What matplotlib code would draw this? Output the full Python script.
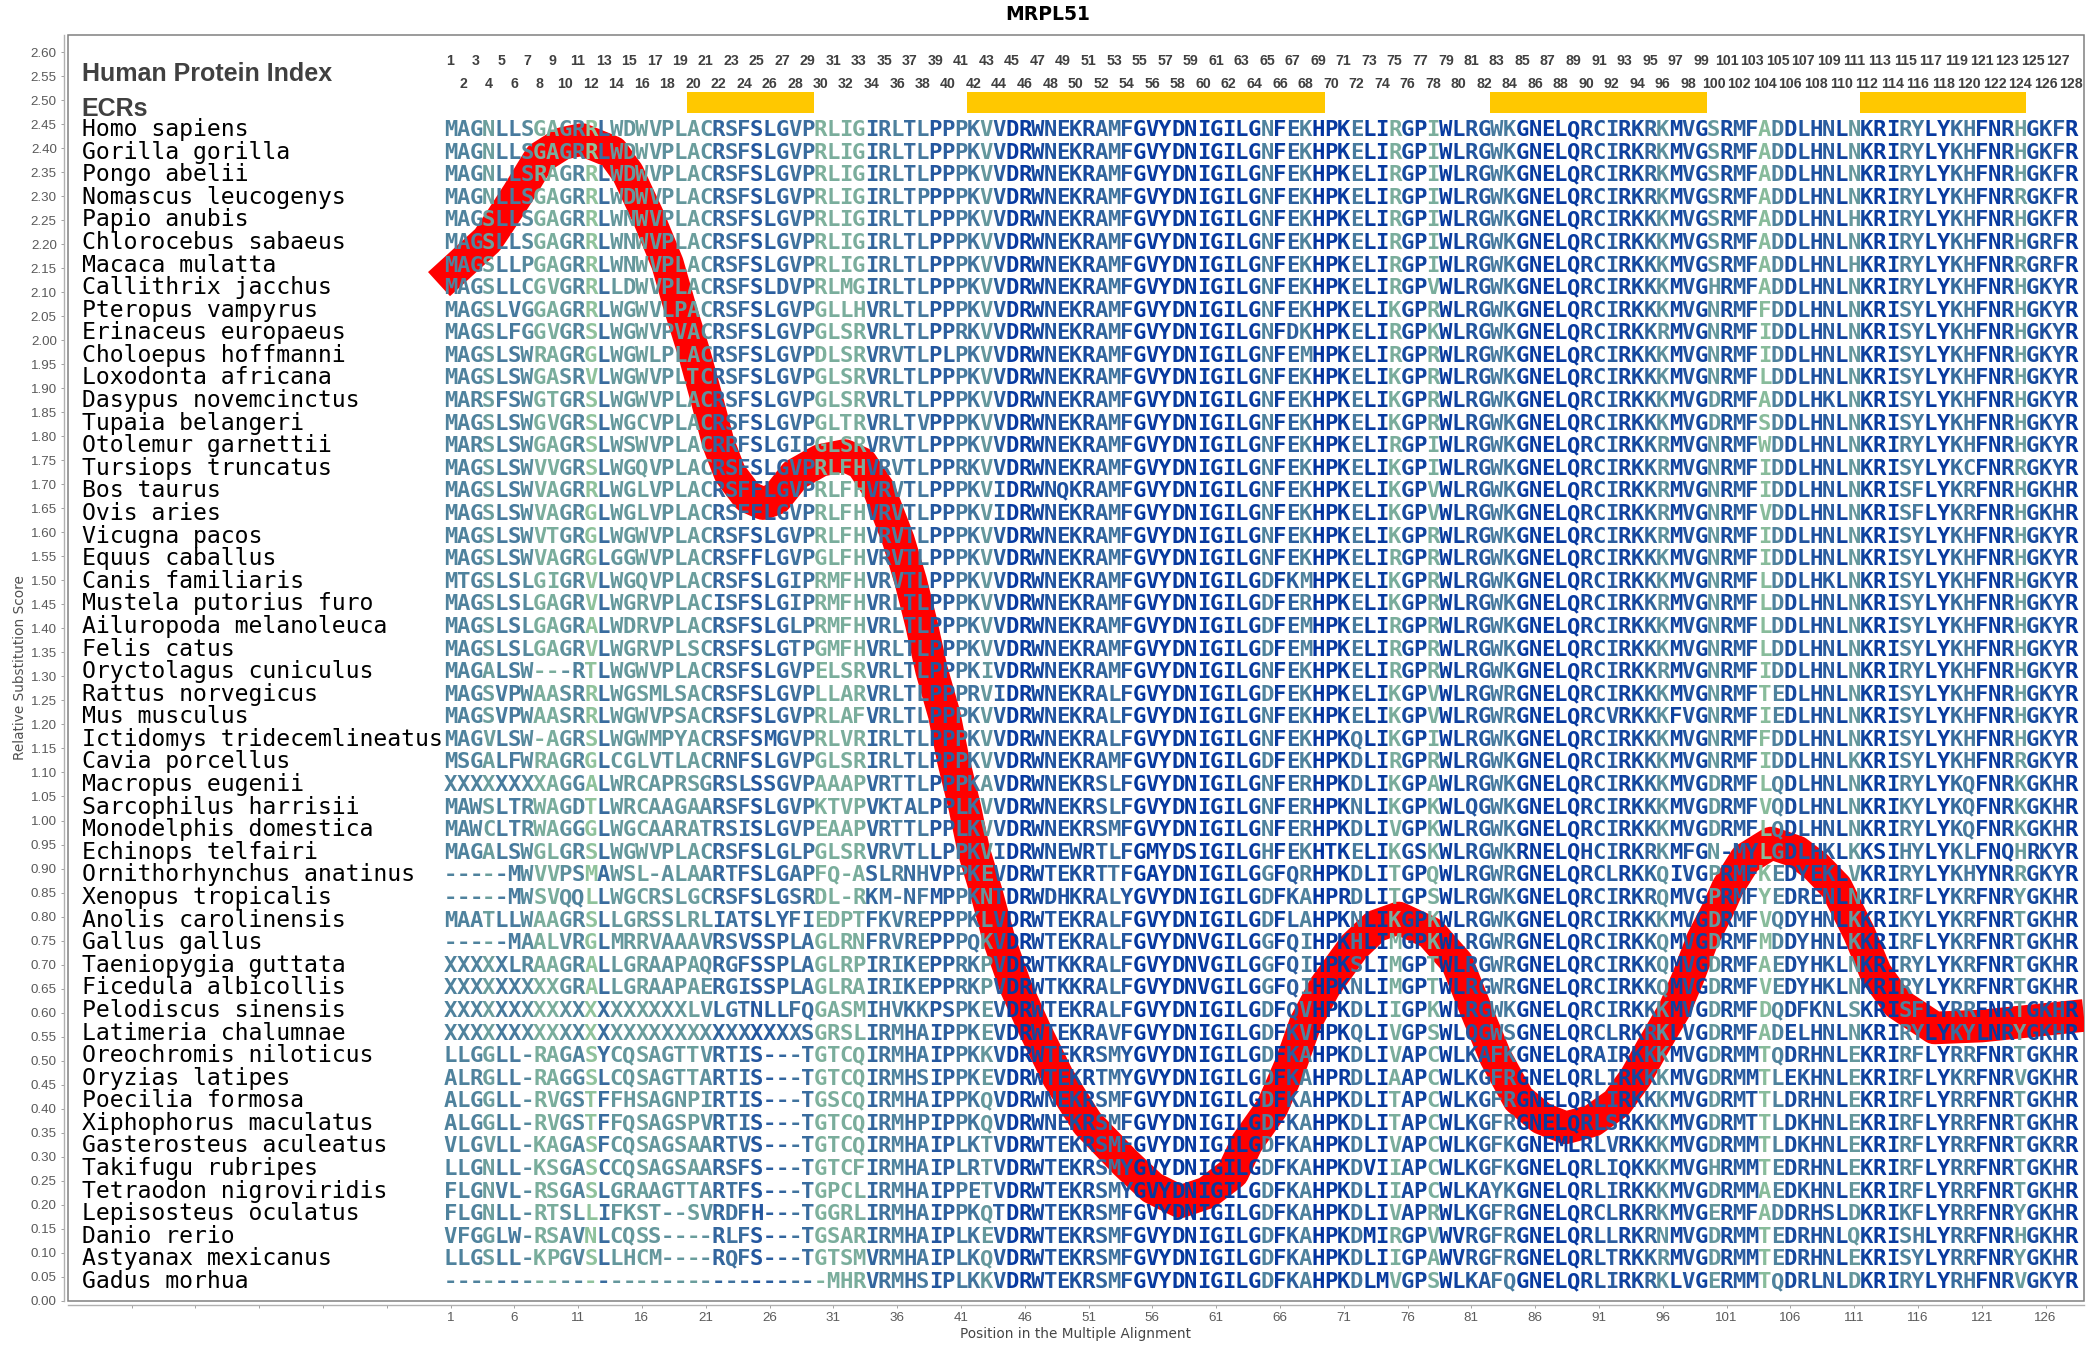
import matplotlib
matplotlib.use("Agg")
import matplotlib.pyplot as plt
from matplotlib.colors import LinearSegmentedColormap
from matplotlib.patches import Rectangle
from matplotlib.ticker import FixedLocator, FuncFormatter

title = "MRPL51"
species = ["Homo sapiens", "Gorilla gorilla", "Pongo abelii", "Nomascus leucogenys", "Papio anubis",
           "Chlorocebus sabaeus", "Macaca mulatta", "Callithrix jacchus", "Pteropus vampyrus",
           "Erinaceus europaeus", "Choloepus hoffmanni", "Loxodonta africana", "Dasypus novemcinctus",
           "Tupaia belangeri", "Otolemur garnettii", "Tursiops truncatus", "Bos taurus", "Ovis aries",
           "Vicugna pacos", "Equus caballus", "Canis familiaris", "Mustela putorius furo",
           "Ailuropoda melanoleuca", "Felis catus", "Oryctolagus cuniculus", "Rattus norvegicus",
           "Mus musculus", "Ictidomys tridecemlineatus", "Cavia porcellus", "Macropus eugenii",
           "Sarcophilus harrisii", "Monodelphis domestica", "Echinops telfairi",
           "Ornithorhynchus anatinus", "Xenopus tropicalis", "Anolis carolinensis", "Gallus gallus",
           "Taeniopygia guttata", "Ficedula albicollis", "Pelodiscus sinensis", "Latimeria chalumnae",
           "Oreochromis niloticus", "Oryzias latipes", "Poecilia formosa", "Xiphophorus maculatus",
           "Gasterosteus aculeatus", "Takifugu rubripes", "Tetraodon nigroviridis",
           "Lepisosteus oculatus", "Danio rerio", "Astyanax mexicanus", "Gadus morhua"]

alignment = [
    "MAGNLLSGAGRRLWDWVPLACRSFSLGVPRLIGIRLTLPPPKVVDRWNEKRAMFGVYDNIGILGNFEKHPKELIRGPIWLRGWKGNELQRCIRKRKMVGSRMFADDLHNLNKRIRYLYKHFNRHGKFR",
    "MAGNLLSGAGRRLWDWVPLACRSFSLGVPRLIGIRLTLPPPKVVDRWNEKRAMFGVYDNIGILGNFEKHPKELIRGPIWLRGWKGNELQRCIRKRKMVGSRMFADDLHNLNKRIRYLYKHFNRHGKFR",
    "MAGNLLSRAGRRLWDWVPLACRSFSLGVPRLIGIRLTLPPPKVVDRWNEKRAMFGVYDNIGILGNFEKHPKELIRGPIWLRGWKGNELQRCIRKRKMVGSRMFADDLHNLNKRIRYLYKHFNRHGKFR",
    "MAGNLLSGAGRRLWDWVPLACRSFSLGVPRLIGIRLTPPPPKVVDRWNEKRAMFGVYDNIGILGNFEKHPKELIRGPIWLRGWKGNELQRCIRKRKMVGSRMFADDLHNLNKRIRYLYKHFNRRGKFR",
    "MAGSLLSGAGRRLWNWVPLACRSFSLGVPRLIGIRLTLPPPKVVDRWNEKRAMFGVYDNIGILGNFEKHPKELIRGPIWLRGWKGNELQRCIRKKKMVGSRMFADDLHNLHKRIRYLYKHFNRHGKFR",
    "MAGSLLSGAGRRLWNWVPLACRSFSLGVPRLIGIRLTLPPPKVVDRWNEKRAMFGVYDNIGILGNFEKHPKELIRGPIWLRGWKGNELQRCIRKKKMVGSRMFADDLHNLNKRIRYLYKHFNRHGRFR",
    "MAGSLLPGAGRRLWNWVPLACRSFSLGVPRLIGIRLTLPPPKVVDRWNEKRAMFGVYDNIGILGNFEKHPKELIRGPIWLRGWKGNELQRCIRKKKMVGSRMFADDLHNLHKRIRYLYKHFNRRGRFR",
    "MAGSLLCGVGRRLLDWVPLACRSFSLDVPRLMGIRLTLPPPKVVDRWNEKRAMFGVYDNIGILGNFEKHPKELIRGPVWLRGWKGNELQRCIRKKKMVGHRMFADDLHNLNKRIRYLYKHFNRHGKYR",
    "MAGSLVGGAGRRLWGWVLPACRSFSLGVPGLLHVRLTLPPPKVVDRWNEKRAMFGVYDNIGILGNFEKHPKELIKGPRWLRGWKGNELQRCIRKKKMVGNRMFFDDLHNLNKRISYLYKHFNRHGKYR",
    "MAGSLFGGVGRSLWGWVPVACRSFSLGVPGLSRVRLTLPPRKVVDRWNEKRAMFGVYDNIGILGNFDKHPKELIRGPKWLRGWKGNELQRCIRKKRMVGNRMFIDDLHNLNKRISYLYKHFNRHGKYR",
    "MAGSLSWRAGRGLWGWLPLACRSFSLGVPDLSRVRVTLPLPKVVDRWNEKRAMFGVYDNIGILGNFEMHPKELIRGPRWLRGWKGNELQRCIRKKKMVGNRMFIDDLHNLNKRISYLYKHFNRHGKYR",
    "MAGSLSWGASRVLWGWVPLTCRSFSLGVPGLSRVRLTLPPPKVVDRWNEKRAMFGVYDNIGILGNFEKHPKELIKGPRWLRGWKGNELQRCIRKKKMVGNRMFLDDLHNLNKRISYLYKHFNRHGKYR",
    "MARSFSWGTGRSLWGWVPLACRSFSLGVPGLSRVRLTLPPPKVVDRWNEKRAMFGVYDNIGILGNFEKHPKELIKGPRWLRGWKGNELQRCIRKKKMVGDRMFADDLHKLNKRISYLYKHFNRHGKYR",
    "MAGSLSWGVGRSLWGCVPLACRSFSLGVPGLTRVRLTVPPPKVVDRWNEKRAMFGVYDNIGILGNFEKHPKELIKGPRWLRGWKGNELQRCIRKKKMVGDRMFSDDLHNLNKRISYLYKHFNRHGKYR",
    "MARSLSWGAGRSLWSWVPLACRRFSLGIPGLSRVRVTLPPPKVVDRWNEKRAMFGVYDNIGILGNFEKHPKELIRGPIWLRGWKGNELQRCIRKKRMVGNRMFWDDLHNLNKRIRYLYKHFNRHGKYR",
    "MAGSLSWVVGRSLWGQVPLACRSFSLGVPRLFHVRVTLPPRKVVDRWNEKRAMFGVYDNIGILGNFEKHPKELIKGPIWLRGWKGNELQRCIRKKRMVGNRMFIDDLHNLNKRISYLYKCFNRRGKYR",
    "MAGSLSWVAGRRLWGLVPLACRSFFLGVPRLFHVRVTLPPPKVIDRWNQKRAMFGVYDNIGILGNFEKHPKELIKGPVWLRGWKGNELQRCIRKKRMVGNRMFIDDLHNLNKRISFLYKRFNRHGKHR",
    "MAGSLSWVAGRGLWGLVPLACRSFFLGVPRLFHVRVTLPPPKVIDRWNEKRAMFGVYDNIGILGNFEKHPKELIKGPVWLRGWKGNELQRCIRKKRMVGNRMFVDDLHNLNKRISFLYKRFNRHGKHR",
    "MAGSLSWVTGRGLWGWVPLACRSFSLGVPRLFHVRVTLPPPKVVDRWNEKRAMFGVYDNIGILGNFEKHPKELIKGPRWLRGWKGNELQRCIRKKRMVGNRMFIDDLHNLNKRISYLYKHFNRHGKYR",
    "MAGSLSWVAGRGLGGWVPLACRSFFLGVPGLFHVRVTLPPPKVVDRWNEKRAMFGVYDNIGILGNFEKHPKELIRGPRWLRGWKGNELQRCIRKKKMVGNRMFIDDLHNLNKRISYLYKHFNRHGKYR",
    "MTGSLSLGIGRVLWGQVPLACRSFSLGIPRMFHVRVTLPPPKVVDRWNEKRAMFGVYDNIGILGDFKMHPKELIKGPRWLRGWKGNELQRCIRKKKMVGNRMFLDDLHKLNKRISYLYKHFNRHGKYR",
    "MAGSLSLGAGRVLWGRVPLACISFSLGIPRMFHVRLTLPPPKVVDRWNEKRAMFGVYDNIGILGDFERHPKELIKGPRWLRGWKGNELQRCIRKKRMVGNRMFLDDLHNLNKRISYLYKHFNRHGKYR",
    "MAGSLSLGAGRALWDRVPLACRSFSLGLPRMFHVRLTLPPPKVVDRWNEKRAMFGVYDNIGILGDFEMHPKELIRGPRWLRGWKGNELQRCIRKKKMVGNRMFLDDLHNLNKRISYLYKHFNRHGKYR",
    "MAGSLSLGAGRVLWGRVPLSCRSFSLGTPGMFHVRLTLPPPKVVDRWNEKRAMFGVYDNIGILGDFEMHPKELIRGPRWLRGWKGNELQRCIRKKKMVGNRMFLDDLHNLNKRISYLYKHFNRHGKYR",
    "MAGALSW---RTLWGWVPLACRSFSLGVPELSRVRLTLPPPKIVDRWNEKRAMFGVYDNIGILGNFEKHPKELIRGPRWLRGWKGNELQRCIRKKRMVGNRMFIDDLHNLNKRIRYLYKHFNRHGKYR",
    "MAGSVPWAASRRLWGSMLSACRSFSLGVPLLARVRLTLPPPRVIDRWNEKRALFGVYDNIGILGDFEKHPKELIKGPVWLRGWRGNELQRCIRKKKMVGNRMFTEDLHNLNKRISYLYKHFNRHGKYR",
    "MAGSVPWAASRRLWGWVPSACRSFSLGVPRLAFVRLTLPPPKVVDRWNEKRALFGVYDNIGILGNFEKHPKELIKGPVWLRGWRGNELQRCVRKKKFVGNRMFIEDLHNLNKRISYLYKHFNRHGKYR",
    "MAGVLSW-AGRSLWGWMPYACRSFSMGVPRLVRIRLTLPPPKVVDRWNEKRALFGVYDNIGILGNFEKHPKQLIKGPIWLRGWKGNELQRCIRKKKMVGNRMFFDDLHNLNKRISYLYKHFNRHGKYR",
    "MSGALFWRAGRGLCGLVTLACRNFSLGVPGLSRIRLTLPPPKVVDRWNEKRAMFGVYDNIGILGDFEKHPKDLIRGPRWLRGWKGNELQRCIRKKKMVGNRMFIDDLHNLKKRISYLYKHFNRRGKYR",
    "XXXXXXXXAGGALWRCAPRSGRSLSSGVPAAAPVRTTLPPPKAVDRWNEKRSLFGVYDNIGILGNFERHPKDLIKGPAWLRGWKGNELQRCIRKKKMVGDRMFLQDLHNLNKRIRYLYKQFNRKGKHR",
    "MAWSLTRWAGDTLWRCAAGAARSFSLGVPKTVPVKTALPPLKVVDRWNEKRSLFGVYDNIGILGNFERHPKNLIKGPKWLQGWKGNELQRCIRKKKMVGDRMFVQDLHNLNKRIKYLYKQFNRKGKHR",
    "MAWCLTRWAGGGLWGCAARATRSISLGVPEAAPVRTTLPPLKVVDRWNEKRSMFGVYDNIGILGNFERHPKDLIVGPKWLRGWKGNELQRCIRKKKMVGDRMFLQDLHNLNKRIRYLYKQFNRKGKHR",
    "MAGALSWGLGRSLWGWVPLACRSFSLGLPGLSRVRVTLLPPKVIDRWNEWRTLFGMYDSIGILGHFEKHTKELIKGSKWLRGWKRNELQHCIRKRKMFGN-MYLGDLHKLKKSIHYLYKLFNQHRKYR",
    "-----MWVVPSMAWSL-ALAARTFSLGAPFQ-ASLRNHVPPKEVDRWTEKRTTFGAYDNIGILGGFQRHPKDLITGPQWLRGWRGNELQRCLRKKQIVGPRMFKEDYEKLVKRIRYLYKHYNRRGKYR",
    "-----MWSVQQLLWGCRSLGCRSFSLGSRDL-RKM-NFMPPKNTDRWDHKRALYGVYDNIGILGDFKAHPRDLITGPSWLRGWKGNELQRCIRKRQMVGPRMFYEDRENLNKRIRFLYKRFNRYGKHR",
    "MAATLLWAAGRSLLGRSSLRLIATSLYFIEDPTFKVREPPPKLVDRWTEKRALFGVYDNIGILGDFLAHPKNLIKGPKWLRGWKGNELQRCIRKKKMVGDRMFVQDYHNLKKRIKYLYKRFNRTGKHR",
    "-----MAALVRGLMRRVAAAVRSVSSPLAGLRNFRVREPPPQKVDRWTEKRALFGVYDNVGILGGFQIHPKHLIMGPKWLRGWRGNELQRCIRKKQMVGDRMFMDDYHNLKKRIRFLYKRFNRTGKHR",
    "XXXXXLRAAGRALLGRAAPAQRGFSSPLAGLRPIRIKEPPRKPVDRWTKKRALFGVYDNVGILGGFQIHPKSLIMGPTWLRGWRGNELQRCIRKKQMVGDRMFAEDYHKLNKRIRYLYKRFNRTGKHR",
    "XXXXXXXXXGRALLGRAAPAERGISSPLAGLRAIRIKEPPRKPVDRWTKKRALFGVYDNVGILGGFQIHPKNLIMGPTWLRGWRGNELQRCIRKKQMVGDRMFVEDYHKLNKRIRYLYKRFNRTGKHR",
    "XXXXXXXXXXXXXXXXXXXLVLGTNLLFQGASMIHVKKPSPKEVDRWTEKRALFGVYDNIGILGDFQVHPKDLIIGPKWLRGWKGNELQRCIRKKKMVGDRMFDQDFKNLSKRISFLYRRFNRTGKHR",
    "XXXXXXXXXXXXXXXXXXXXXXXXXXXXSGRSLIRMHAIPPKEVDRWTEKRAVFGVYDNIGILGDFKVHPKQLIVGPSWLQGWSGNELQRCLRKRKLVGDRMFADELHNLNKRIRYLYKYLNRYGKHR",
    "LLGGLL-RAGASYCQSAGTTVRTIS---TGTCQIRMHAIPPKKVDRWTEKRSMYGVYDNIGILGDFKAHPKDLIVAPCWLKAFKGNELQRAIRKKKMVGDRMMTQDRHNLEKRIRFLYRRFNRTGKHR",
    "ALRGLL-RAGGSLCQSAGTTARTIS---TGTCQIRMHSIPPKEVDRWTEKRTMYGVYDNIGILGDFKAHPRDLIAAPCWLKGFRGNELQRLIRKKKMVGDRMMTLEKHNLEKRIRFLYKRFNRVGKHR",
    "ALGGLL-RVGSTFFHSAGNPIRTIS---TGSCQIRMHAIPPKQVDRWNEKRSMFGVYDNIGILGDFKAHPKDLITAPCWLKGFRGNELQRLIRKKKMVGDRMTTLDRHNLEKRIRFLYRRFNRTGKHR",
    "ALGGLL-RVGSTFFQSAGSPVRTIS---TGTCQIRMHPIPPKQVDRWNEKRSMFGVYDNIGILGDFKAHPKDLITAPCWLKGFRGNELQRLSRKKKMVGDRMTTLDKHNLEKRIRFLYRRFNRTGKHR",
    "VLGVLL-KAGASFCQSAGSAARTVS---TGTCQIRMHAIPLKTVDRWTEKRSMFGVYDNIGILGDFKAHPKDLIVAPCWLKGFKGNEMLRLVRKKKMVGDRMMTLDKHNLEKRIRFLYRRFNRTGKRR",
    "LLGNLL-KSGASCCQSAGSAARSFS---TGTCFIRMHAIPLRTVDRWTEKRSMYGVYDNIGILGDFKAHPKDVIIAPCWLKGFKGNELQRLIQKKKMVGHRMMTEDRHNLEKRIRFLYRRFNRTGKHR",
    "FLGNVL-RSGASLGRAAGTTARTFS---TGPCLIRMHAIPPETVDRWTEKRSMYGVYDNIGILGDFKAHPKDLIIAPCWLKAYKGNELQRLIRKKKMVGDRMMAEDKHNLEKRIRFLYRRFNRTGKHR",
    "FLGNLL-RTSLLIFKST--SVRDFH---TGGRLIRMHAIPPKQTDRWTEKRSMFGVYDNIGILGDFKAHPKDLIVAPRWLKGFRGNELQRCLRKRKMVGERMFADDRHSLDKRIKFLYRRFNRYGKHR",
    "VFGGLW-RSAVNLCQSS----RLFS---TGSARIRMHAIPLKEVDRWTEKRSMFGVYDNIGILGDFKAHPKDMIRGPVWVRGFRGNELQRLLRKRNMVGDRMMTEDRHNLQKRISHLYRRFNRHGKHR",
    "LLGSLL-KPGVSLLHCM----RQFS---TGTSMVRMHAIPLKQVDRWTEKRSMFGVYDNIGILGDFKAHPKDLIIGPAWVRGFRGNELQRLTRKKRMVGDRMMTEDRHNLEKRISYLYRRFNRYGKHR",
    "------------------------------MHRVRMHSIPLKKVDRWTEKRSMFGVYDNIGILGDFKAHPKDLMVGPSWLKAFQGNELQRLIRKRKLVGERMMTQDRLNLDKRIRYLYRHFNRVGKYR",
]

column_conservation = [
    .45, .45, .45, .25, .50, .50, .40, .15, .15, .35, .45, .00, .60, .30, .30, .25, .30, .35, .30, .25,
    .35, .65, .55, .60, .75, .70, .65, .55, .60, .12, .15, .15, .15, .65, .55, .45, .60, .50, .75, .70,
    .50, .55, .30, .70, .95, .95, .85, .75, .80, .80, .85, .65, .55, .75, .98, .95, .95, .95, .95, .95,
    .95, .95, .95, .95, .45, .95, .70, .45, 1.0, .95, .95, .50, .95, .95, .15, .85, .90, .15, .95, .90,
    .75, .75, .50, .50, .95, .95, .95, .95, .95, .85, .75, .70, .90, .85, .65, .35, .90, .75, .90, .30,
    .85, .70, .80, .05, .45, .85, .75, .80, .70, .90, .30, .90, .95, .95, .45, .50, .95, .95, .60, .50,
    .90, .95, .85, .25, .85, .80, .70, .95]

line_positions = [0.1, 3.9, 5.1, 6.3, 8.0, 9.8, 11.3, 13.7, 14.9, 16.5, 18.0, 19.0, 20.1, 21.1, 22.0, 22.9,
                  24.3, 25.5, 26.5, 28.0, 30.0, 31.9, 33.2, 34.6, 36.1, 37.05, 37.9, 38.7, 39.7, 40.4, 41.3,
                  42.0, 43.0, 44.0, 45.3, 46.8, 48.6, 50.9, 53.9, 56.0, 58.2, 60.3, 62.3, 63.4, 65.4, 66.9,
                  68.0, 69.5, 71.8, 73.5, 75.3, 77.8, 79.9, 81.3, 82.9, 84.7, 86.5, 88.4, 90.5, 92.4, 93.9,
                  95.2, 96.9, 98.0, 99.1, 100.3, 101.1, 102.5, 104.5, 106.5, 108.0, 109.6, 111.4, 112.7,
                  114.4, 117.3, 121.0, 129.0]
line_scores = [2.117, 2.209, 2.257, 2.306, 2.380, 2.410, 2.418, 2.392, 2.348, 2.257, 2.160, 2.067, 1.973, 1.876,
               1.785, 1.723, 1.674, 1.660, 1.670, 1.720, 1.750, 1.760, 1.744, 1.688, 1.584, 1.500, 1.410, 1.313,
               1.220, 1.126, 1.028, 0.938, 0.850, 0.751, 0.653, 0.564, 0.466, 0.370, 0.287, 0.235, 0.206, 0.225,
               0.266, 0.328, 0.403, 0.495, 0.578, 0.653, 0.737, 0.780, 0.797, 0.766, 0.703, 0.610, 0.507, 0.420,
               0.380, 0.360, 0.375, 0.411, 0.466, 0.528, 0.605, 0.674, 0.751, 0.813, 0.861, 0.920, 0.953, 0.935,
               0.905, 0.861, 0.765, 0.682, 0.619, 0.568, 0.572, 0.594]

ecr_starts = [20, 42, 83, 112]
ecr_ends = [29, 69, 99, 124]
y_ticks = [i * 0.05 for i in range(53)]
x_ticks = [-29 + 5 * i for i in range(32)]
column_count = 128

bad = [(i, len(s)) for i, s in enumerate(alignment) if len(s) != column_count]
if bad or len(alignment) != len(species) or len(column_conservation) != column_count \
        or len(line_positions) != len(line_scores):
    raise SystemExit(f"bad {bad} {len(alignment)} {len(species)} {len(column_conservation)} "
                     f"{len(line_positions)} {len(line_scores)}")

W, H = 2096, 1350
fig = plt.figure(figsize=(W / 100, H / 100), dpi=100, facecolor="white")
L, R, T, B = 68, 2084, 35, 1301
ax = fig.add_axes([L / W, 1 - B / H, (R - L) / W, (B - T) / H])

px_col = 12.76
x0 = 450.5
py = 480.2
y0 = 1300.7
ax.set_xlim(1 - (x0 - L) / px_col, 1 + (R - x0) / px_col)
ax.set_ylim((y0 - B) / py, (y0 - T) / py)


def xd(px):
    return 1 + (px - x0) / px_col


def yd(px):
    return (y0 - px) / py


# frame and detached axes
for side in ("top", "right"):
    ax.spines[side].set_visible(False)
for side in ("left", "bottom"):
    ax.spines[side].set_position(("outward", 2.6))
    ax.spines[side].set_color("#b0b0b0")
    ax.spines[side].set_linewidth(1.0)
ax.add_patch(Rectangle((0, 0), 1, 1, transform=ax.transAxes, fill=False, ec="#808080", lw=1.1,
                       clip_on=False, zorder=1))

ax.yaxis.set_major_locator(FixedLocator(y_ticks))
ax.yaxis.set_major_formatter(FuncFormatter(lambda v, p: f"{v:.2f}"))
ax.xaxis.set_major_locator(FixedLocator(x_ticks))
ax.xaxis.set_major_formatter(FuncFormatter(lambda v, p: f"{int(round(v))}" if v > 0 else ""))
ax.tick_params(axis="both", direction="out", length=2.5, width=0.7, color="#a0a0a0",
               labelcolor="#5a5a5a", labelsize=9.6)
ax.tick_params(axis="x", pad=3)
ax.tick_params(axis="y", pad=3)
for lab in ax.get_xticklabels() + ax.get_yticklabels():
    lab.set_fontfamily("Liberation Sans")

ax.set_xlabel("Position in the Multiple Alignment", fontsize=9.8, color="#454545", family="DejaVu Sans")
ax.xaxis.set_label_coords(0.5, -(1334 - B) / (B - T), transform=ax.transAxes)
ax.xaxis.label.set_va("center")
ax.set_ylabel("Relative Substitution Score", fontsize=9.8, color="#505050", family="DejaVu Sans")
ax.yaxis.set_label_coords(-(L - 20) / (R - L), 0.5, transform=ax.transAxes)
ax.yaxis.label.set_va("center")

fig.text(0.5, 1 - 14 / H, title, ha="center", va="center", fontsize=13.5, fontweight="bold",
         family="DejaVu Sans", color="black")

# substitution score line
ax.plot(line_positions, line_scores, color="#ff0000", lw=23.5, solid_capstyle="butt",
        solid_joinstyle="round", zorder=2)

# ECR bars
for s, e in zip(ecr_starts, ecr_ends):
    ax.add_patch(Rectangle((s - 0.5, yd(113)), e - s + 1, yd(92) - yd(113), fc="#ffc800", ec="none", zorder=2))

# headings and position index
head_x = xd(81.7)
ax.text(head_x, yd(74), "Human Protein Index", fontsize=18, fontweight="bold", color="#404040",
        family="Liberation Sans", va="center", ha="left")
ax.text(head_x, yd(108.5), "ECRs", fontsize=18, fontweight="bold", color="#404040",
        family="Liberation Sans", va="center", ha="left")
for c in range(1, column_count + 1):
    ax.text(c, yd(61 if c % 2 else 84), str(c), fontsize=10.2, fontweight="bold", color="#404040",
            family="Liberation Sans", ha="center", va="center")

# species and aligned residues
cmap = LinearSegmentedColormap.from_list("cons", ["#8fc29b", "#0033a0"])
col_colors = [cmap(v) for v in column_conservation]
row_pitch = (1288 - 136) / (len(species) - 1)
for r, (name, seq) in enumerate(zip(species, alignment)):
    base = yd(136 + r * row_pitch)
    ax.text(head_x, base, name, fontsize=16.7, family="DejaVu Sans Mono", color="black",
            va="baseline", ha="left", zorder=4)
    for c, ch in enumerate(seq):
        ax.text(c + 1, base, ch, fontsize=16, family="DejaVu Sans Mono", fontweight="bold",
                color=col_colors[c], va="baseline", ha="center", zorder=4)

fig.savefig("out.png", dpi=100, facecolor="white")
